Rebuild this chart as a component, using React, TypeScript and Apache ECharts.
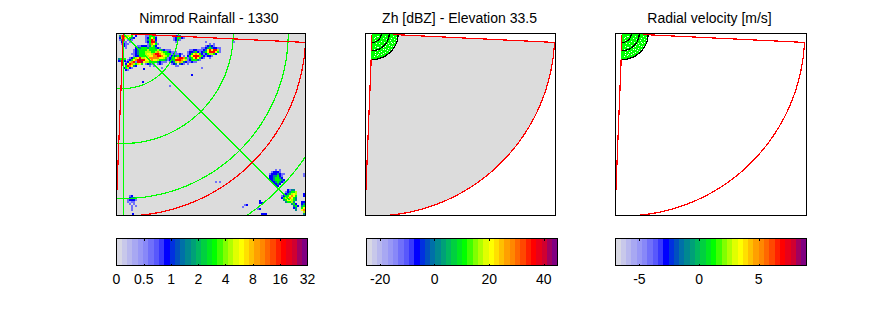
import React, { useEffect, useRef } from "react";
import * as echarts from "echarts";

const titles = ["Nimrod Rainfall - 1330", "Zh [dBZ] - Elevation 33.5", "Radial velocity [m/s]"];
const titleCentres = [204, 454.5, 704.5];
const panelLefts = [116.5, 365.5, 615.5];
const panelWidths = [189, 190, 190.5];
const barLefts = [116.5, 366.5, 615.5];

const palette = [
  "#d8d8e4", "#c8c8ea", "#b8b8ee", "#a8a8f2", "#9898f6", "#8888f8", "#7070fa", "#5858fc", "#3838fd",
  "#0000ff", "#0030e0", "#0050c0", "#0070a8", "#008890", "#00a078", "#00b860", "#00d040", "#00e820",
  "#00ff00", "#40ff00", "#80ff00", "#b0ff00", "#e0ff00", "#ffff00", "#ffe000", "#ffc000", "#ffa000",
  "#ff8800", "#ff6800", "#ff4800", "#ff2000", "#ff0000", "#e8001a", "#d00030", "#a00060", "#800080",
];
const rainLevelColours = [3, 6, 9, 13, 18, 21, 23, 27, 31, 34];

const rainTicks = [0, 1, 2, 3, 4, 5, 6, 7];
const rainTickLabels = ["0", "0.5", "1", "2", "4", "8", "16", "32"];
const zhTicks = [-20, 0, 20, 40];
const velTicks = [-5, 0, 5];
const barRanges = [[0, 7], [-25, 45], [-7, 9]];

const greenRings = [55, 110, 165, 220];
const redRadius = 182.5;
const nearRings = [9, 17, 26];
const originX = 122.7;
const originY = 33;
const sectorStartDeg = 2.8;
const sectorEndDeg = 92.3;

// [row y, first x, rain level per 2px cell]
const rainRows: [number, number, string][] = [
  [34, 118, "3785564 2"], [36, 118, "2576 432"], [38, 118, "134 121"], [40, 120, "211 1"], [42, 120, "1211"], [44, 122, "21"], [46, 124, "1"],
  [34, 144, "114441"], [36, 144, "124642"], [38, 144, "134872"], [40, 144, "124883"], [42, 146, "147641"], [44, 146, "13542"],
  [34, 172, "1223"], [36, 172, "123421"], [38, 172, "1231"], [40, 174, "1"],
  [44, 136, "11222"],
  [46, 134, "2234443444321"],
  [48, 132, "1234444544445432111"],
  [50, 132, "1234445554457654432111"],
  [52, 130, "11234445665788765444321111"],
  [54, 132, "122444556677887654443211 1"],
  [56, 132, "1234556677777665444322111"],
  [58, 134, "2445666676654443211"],
  [60, 134, "1234455444432111"],
  [62, 144, "12311 121"],
  [64, 148, "1 1"],
  [56, 128, "124568"], [58, 126, "124678988"], [60, 124, "12578 8896"], [62, 124, "268754564"], [64, 124, "487632"], [66, 122, "24521"], [68, 124, "21"],
  [57, 117, "3424"], [59, 117, "2342"],
  [52, 170, "1 1 2"], [54, 168, "122342 1"], [56, 166, "123467887421 1"], [58, 166, "1234888765321"], [60, 168, "12356753211"], [62, 170, "123 321 1"], [64, 174, "11"],
  [48, 188, "112211"], [50, 186, "1223421"], [52, 186, "124676421"], [54, 186, "24688874211"], [56, 186, "134686421"], [58, 186, "1244431"], [60, 188, "1211"],
  [42, 208, "1 1"], [44, 204, "12321"], [46, 200, "1123432211"], [48, 200, "1236868851"], [50, 200, "2346888641"], [52, 202, "1245542"], [54, 204, "1221"], [56, 208, "1"],
  [67, 142, "2"], [73, 190, "2"], [80, 141, "2"], [66, 200, "1"], [66, 160, "1"], [84, 168, "1"], [40, 232, "1"], [40, 204, "1"],
  [168, 274, "1 1"], [170, 270, "12221"], [172, 268, "12223211"], [174, 268, "2233421"], [176, 268, "2234432"], [178, 268, "22344432"], [180, 270, "2234321"], [182, 272, "2232"], [184, 274, "22"],
  [188, 286, "2133"], [190, 284, "123445"], [192, 282, "1234565"], [194, 280, "12346764"], [196, 280, "24567643"], [198, 282, "3466543"], [200, 284, "34453"], [202, 290, "342"], [204, 292, "342"], [206, 292, "23"], [208, 294, "3"],
  [192, 302, "22"], [194, 302, "23"], [200, 300, "2233"], [202, 300, "2344"], [204, 300, "3456"], [206, 300, "4678"], [208, 300, "6786"], [210, 302, "566"], [212, 302, "34"],
  [170, 304, "12"], [172, 302, "122"], [174, 302, "1"],
  [194, 128, "12"], [196, 128, "2332"], [198, 126, "12221"], [200, 126, "1011"], [202, 128, "1 1"], [204, 130, "1 1"], [206, 130, "1"], [208, 130, "1"], [212, 131, "2"],
  [180, 214, "1 1"], [199, 258, "2"], [201, 258, "22"], [203, 243, "12"], [205, 241, "1"], [207, 256, "12"], [212, 260, "222"], [214, 260, "2"],
];

// small gaps in the near-range gates, as [x, y]
const nearGaps: [number, number][] = [
  [127, 35], [130, 36], [128, 38], [125, 39], [131, 40], [126, 42], [135, 35], [138, 36], [136, 38], [140, 39], [134, 41], [138, 42],
  [131, 44], [135, 45], [128, 46], [125, 45], [133, 48], [127, 49], [124, 48], [143, 35], [146, 36], [144, 38], [147, 40], [142, 42],
  [145, 43], [141, 45], [143, 47], [138, 47], [139, 50], [135, 51], [131, 53], [127, 54], [124, 55], [129, 51], [136, 54],
  [125, 36], [128, 35], [133, 37], [129, 42], [124, 37], [137, 40], [141, 37], [146, 39], [144, 41], [141, 41], [136, 43], [139, 44],
  [133, 46], [129, 48], [125, 51], [127, 46], [131, 50], [133, 52], [128, 53], [125, 53], [141, 48], [137, 49], [143, 45], [135, 48],
];

function polar(api: any, r: number, deg: number) {
  const t = (deg * Math.PI) / 180;
  return api.coord([originX + r * Math.cos(t), originY + r * Math.sin(t)]);
}
function arcPoints(api: any, r: number) {
  const pts: number[][] = [];
  for (let d = sectorStartDeg - 40; d <= 140; d += 1) pts.push(polar(api, r, d));
  return pts;
}
function sectorPoints(api: any, r: number) {
  const pts: number[][] = [api.coord([originX, originY])];
  for (let d = sectorStartDeg; d <= sectorEndDeg + 0.01; d += 0.8) pts.push(polar(api, r, d));
  pts.push(polar(api, r, sectorEndDeg));
  return pts;
}
function outlinePoints(api: any, r: number) {
  return [...sectorPoints(api, r), api.coord([originX, originY])];
}

function panelSeries(i: number) {
  const base = { type: "custom", xAxisIndex: i, yAxisIndex: i, clip: true, silent: true, coordinateSystem: "cartesian2d" };
  const s: any[] = [];
  if (i === 0) {
    s.push({
      ...base, data: [[116, 33, 306, 215]],
      renderItem: (_: any, api: any) => {
        const a = api.coord([api.value(0), api.value(1)]);
        const b = api.coord([api.value(2), api.value(3)]);
        return { type: "rect", shape: { x: a[0], y: a[1], width: b[0] - a[0], height: b[1] - a[1] }, style: { fill: "#dcdcdc" } };
      },
    });
    const cells: number[][] = [];
    rainRows.forEach(([y, x, levels]) => {
      levels.split("").forEach((c, k) => { if (c !== " ") cells.push([x + k * 2, y, Number(c)]); });
    });
    s.push({
      ...base, data: cells,
      renderItem: (_: any, api: any) => {
        const a = api.coord([api.value(0), api.value(1)]);
        const b = api.coord([api.value(0) + 2, api.value(1) + 2]);
        return { type: "rect", shape: { x: a[0], y: a[1], width: b[0] - a[0], height: b[1] - a[1] }, style: { fill: palette[rainLevelColours[api.value(2)]] } };
      },
    });
    s.push({
      ...base, data: greenRings.map((r) => [r]),
      renderItem: (_: any, api: any) => ({ type: "polyline", shape: { points: arcPoints(api, api.value(0)) }, style: { stroke: "#00ff00", fill: "none", lineWidth: 1.2 } }),
    });
    s.push({
      ...base, data: [[45, 235], [90, 190]],
      renderItem: (_: any, api: any) => ({ type: "polyline", shape: { points: [api.coord([originX, originY]), polar(api, api.value(1), api.value(0))] }, style: { stroke: "#00ff00", fill: "none", lineWidth: 1.2 } }),
    });
  }
  if (i === 1) {
    s.push({
      ...base, data: [[redRadius]],
      renderItem: (_: any, api: any) => ({ type: "polygon", shape: { points: sectorPoints(api, api.value(0)) }, style: { fill: "#dcdcdc" } }),
    });
  }
  s.push({
    ...base, data: [[redRadius]],
    renderItem: (_: any, api: any) => ({ type: "polyline", shape: { points: outlinePoints(api, api.value(0)) }, style: { stroke: "#ff0000", fill: "none", lineWidth: 1.2 } }),
  });
  if (i > 0) {
    s.push({
      ...base, data: [[nearRings[2]]],
      renderItem: (_: any, api: any) => ({ type: "polygon", shape: { points: sectorPoints(api, api.value(0)) }, style: { fill: "#00ff00" } }),
    });
    s.push({
      ...base, data: nearGaps,
      renderItem: (_: any, api: any) => {
        const a = api.coord([api.value(0), api.value(1)]);
        return { type: "rect", shape: { x: a[0], y: a[1], width: 1.5, height: 1.5 }, style: { fill: "#ffffff" } };
      },
    });
    s.push({
      ...base, data: nearRings.map((r) => [r]),
      renderItem: (_: any, api: any) => {
        const pts: number[][] = [];
        for (let d = sectorStartDeg; d <= sectorEndDeg; d += 3) pts.push(polar(api, api.value(0), d));
        return { type: "polyline", shape: { points: pts }, style: { stroke: "#000000", fill: "none", lineWidth: 1.2 } };
      },
    });
  }
  return s;
}

function barSeries(i: number) {
  const [lo, hi] = barRanges[i];
  const step = (hi - lo) / palette.length;
  return {
    type: "custom", xAxisIndex: 3 + i * 2, yAxisIndex: 3 + i, silent: true, clip: true,
    data: palette.map((_, k) => [lo + k * step, lo + (k + 1) * step, k]),
    renderItem: (_: any, api: any) => {
      const a = api.coord([api.value(0), 1]);
      const b = api.coord([api.value(1), 0]);
      return { type: "rect", shape: { x: a[0], y: a[1], width: b[0] - a[0] + 0.5, height: b[1] - a[1] }, style: { fill: palette[api.value(2)] } };
    },
  };
}

export default function App() {
  const ref = useRef<HTMLDivElement>(null);
  useEffect(() => {
    const chart = echarts.init(ref.current!, undefined, { renderer: "svg" });
    const font = "Liberation Sans";
    const panelGrids = panelLefts.map((left, i) => ({
      left, top: 33.5, width: panelWidths[i], height: 182, show: true, z: 20, borderColor: "#000", borderWidth: 1, backgroundColor: "transparent",
    }));
    const barGrids = barLefts.map((left) => ({
      left, top: 238.5, width: 191, height: 27, show: true, z: 20, borderColor: "#000", borderWidth: 1, backgroundColor: "transparent",
    }));
    const panelX = panelLefts.map((_, i) => ({
      type: "value", gridIndex: i, min: 116, max: 116 + panelWidths[i], show: false,
    }));
    const panelY = panelLefts.map((_, i) => ({
      type: "value", gridIndex: i, min: 33, max: 215, inverse: true, show: false,
    }));
    const tickSets = [rainTicks, zhTicks, velTicks];
    const barX: any[] = [];
    barLefts.forEach((_, i) => {
      const gridIndex = 3 + i;
      const [min, max] = barRanges[i];
      const ticks = tickSets[i];
      const common = { type: "value", gridIndex, min, max, splitLine: { show: false }, axisLine: { show: false }, z: 25 };
      barX.push({
        ...common, position: "bottom",
        axisTick: { show: true, inside: true, length: 2, lineStyle: { color: "#000" }, customValues: ticks },
        axisLabel: {
          show: true, margin: 6, color: "#000", fontFamily: font, fontSize: 14, customValues: ticks,
          showMinLabel: true, showMaxLabel: true, hideOverlap: false,
          formatter: (v: number) => (i === 0 ? rainTickLabels[rainTicks.indexOf(v)] : String(v)),
        },
      });
      barX.push({
        ...common, position: "top",
        axisTick: { show: true, inside: true, length: 2, lineStyle: { color: "#000" }, customValues: ticks },
        axisLabel: { show: false },
      });
    });
    const barY = barLefts.map((_, i) => ({ type: "value", gridIndex: 3 + i, min: 0, max: 1, show: false }));
    chart.setOption({
      animation: false,
      backgroundColor: "#fff",
      title: titles.map((text, i) => ({
        text, left: titleCentres[i], top: 6, textAlign: "center",
        textStyle: { fontFamily: font, fontSize: 14, fontWeight: "normal", color: "#000" },
      })),
      grid: [...panelGrids, ...barGrids],
      xAxis: [...panelX, ...barX],
      yAxis: [...panelY, ...barY],
      series: [...panelSeries(0), ...panelSeries(1), ...panelSeries(2), ...[0, 1, 2].map(barSeries)],
    });
    return () => chart.dispose();
  }, []);
  return (
    <>
      <style>{`body{margin:0} svg path{shape-rendering:crispEdges}`}</style>
      <div ref={ref} style={{ width: 889, height: 333 }} />
    </>
  );
}
